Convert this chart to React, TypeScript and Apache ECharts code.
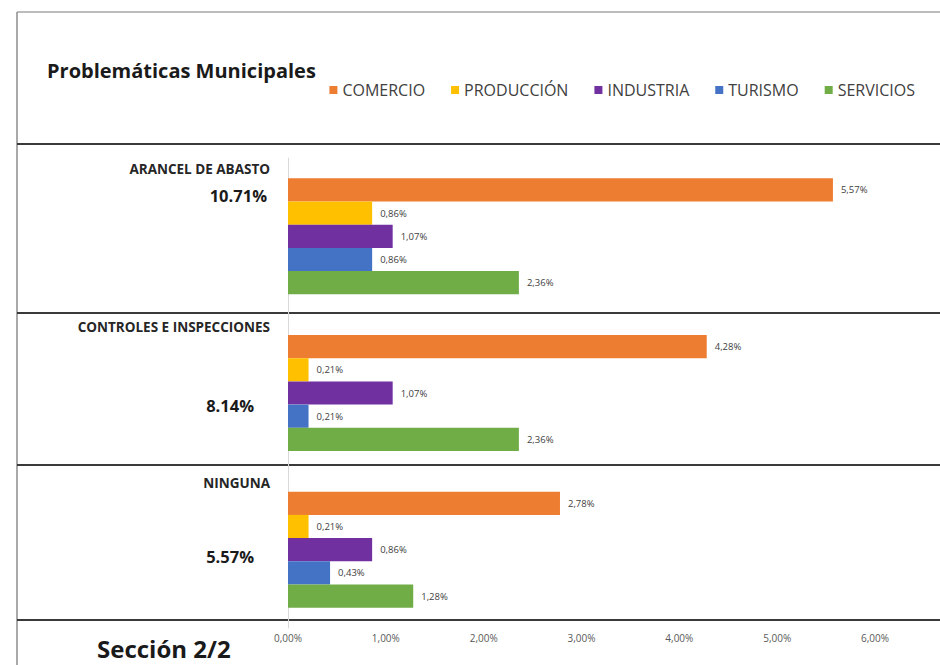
import React, { useEffect, useRef } from "react";
import * as echarts from "echarts";

const categories = ["ARANCEL DE ABASTO", "CONTROLES E INSPECCIONES", "NINGUNA"];
const totals = [10.71, 8.14, 5.57];
const seriesNames = ["COMERCIO", "PRODUCCIÓN", "INDUSTRIA", "TURISMO", "SERVICIOS"];
const comercio = [5.57, 4.28, 2.78];
const produccion = [0.86, 0.21, 0.21];
const industria = [1.07, 1.07, 0.86];
const turismo = [0.86, 0.21, 0.43];
const servicios = [2.36, 2.36, 1.28];
const xTicks = [0, 1, 2, 3, 4, 5, 6];

const seriesValues = [comercio, produccion, industria, turismo, servicios];
const colors = ["#ED7D31", "#FFC000", "#7030A0", "#4472C4", "#70AD47"];

const FONT = "'Open Sans', 'Noto Sans', sans-serif";

// layout of left-hand labels (pixel positions)
const nameLayout = [
  { x: 270, y: 169 },
  { x: 270, y: 327 },
  { x: 270, y: 483 },
];
const totalLayout = [
  { x: 267, y: 195 },
  { x: 254, y: 405 },
  { x: 254, y: 556 },
];

const fmt = (v: number) => v.toFixed(2).replace(".", ",") + "%";

export default function App() {
  const ref = useRef<HTMLDivElement>(null);
  useEffect(() => {
    if (!ref.current) return;
    const chart = echarts.init(ref.current, undefined, { renderer: "svg" });

    const graphics: any[] = [];
    // frame
    graphics.push({
      type: "line",
      shape: { x1: 17, y1: 12, x2: 940, y2: 12 },
      style: { stroke: "#a6a6a6", lineWidth: 1.5 },
    });
    graphics.push({
      type: "line",
      shape: { x1: 17, y1: 12, x2: 17, y2: 665 },
      style: { stroke: "#8c8c8c", lineWidth: 1.5 },
    });
    [144, 313, 465, 620].forEach((y) =>
      graphics.push({
        type: "line",
        shape: { x1: 17, y1: y, x2: 940, y2: y },
        style: { stroke: "#3a3a3a", lineWidth: 2 },
      })
    );
    graphics.push({
      type: "text",
      x: 47,
      y: 70,
      style: {
        text: "Problemáticas Municipales",
        font: `bold 20px ${FONT}`,
        fill: "#1a1a1a",
        textVerticalAlign: "middle",
      },
    });
    graphics.push({
      type: "text",
      x: 97,
      y: 648,
      style: {
        text: "Sección 2/2",
        font: `bold 24px ${FONT}`,
        fill: "#1a1a1a",
        textVerticalAlign: "middle",
      },
    });
    categories.forEach((c, i) => {
      graphics.push({
        type: "text",
        x: nameLayout[i].x,
        y: nameLayout[i].y,
        style: {
          text: c,
          font: `bold 13.5px ${FONT}`,
          fill: "#262626",
          textAlign: "right",
          textVerticalAlign: "middle",
        },
      });
      graphics.push({
        type: "text",
        x: totalLayout[i].x,
        y: totalLayout[i].y,
        style: {
          text: totals[i].toFixed(2) + "%",
          font: `bold 16.5px ${FONT}`,
          fill: "#1a1a1a",
          textAlign: "right",
          textVerticalAlign: "middle",
        },
      });
    });

    chart.setOption({
      animation: false,
      backgroundColor: "#ffffff",
      legend: {
        data: seriesNames,
        top: 77,
        right: 20,
        icon: "rect",
        itemWidth: 8,
        itemHeight: 8,
        itemGap: 26,
        textStyle: { fontFamily: FONT, fontSize: 16, color: "#404040" },
      },
      grid: { left: 288, right: 65, top: 158, bottom: 37, containLabel: false },
      xAxis: {
        type: "value",
        min: xTicks[0],
        max: xTicks[xTicks.length - 1],
        interval: 1,
        axisLine: { show: false },
        axisTick: { show: false },
        splitLine: { show: false },
        axisLabel: {
          formatter: (v: number) => fmt(v),
          fontFamily: FONT,
          fontSize: 10,
          color: "#595959",
          margin: 5,
        },
      },
      yAxis: {
        type: "category",
        data: categories,
        inverse: true,
        axisLabel: { show: false },
        axisTick: { show: false },
        axisLine: { show: true, lineStyle: { color: "#d9d9d9", width: 1 } },
      },
      series: seriesNames.map((name, i) => ({
        name,
        type: "bar",
        data: seriesValues[i],
        barGap: "0%",
        barCategoryGap: "26%",
        itemStyle: { color: colors[i] },
        label: {
          show: true,
          position: "right",
          distance: 8,
          formatter: (p: any) => fmt(p.value),
          fontFamily: FONT,
          fontSize: 9.5,
          color: "#404040",
        },
      })),
      graphic: graphics,
    });
    return () => chart.dispose();
  }, []);
  return (
    <div
      ref={ref}
      style={{ position: "fixed", left: 0, top: 0, width: 940, height: 665, background: "#fff" }}
    />
  );
}
